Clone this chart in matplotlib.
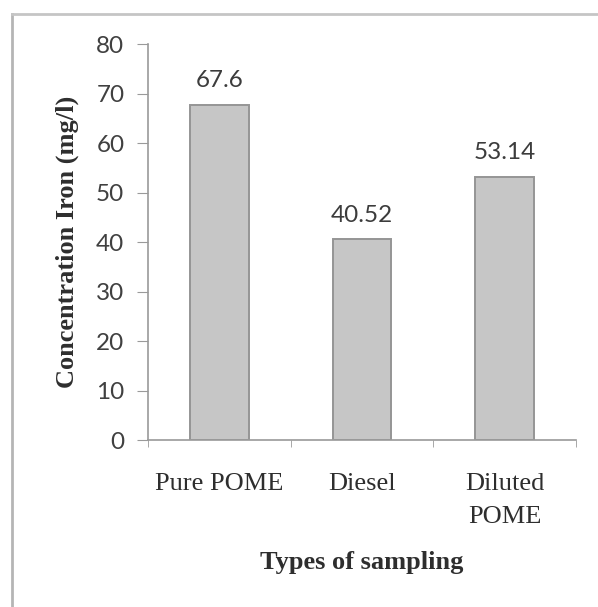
import matplotlib

matplotlib.use("Agg")

import matplotlib.pyplot as plt
from matplotlib.lines import Line2D

# data
categories = ["Pure POME", "Diesel", "Diluted\nPOME"]
iron_mg_l = [67.6, 40.52, 53.14]
value_labels = ["67.6", "40.52", "53.14"]

fig = plt.figure(figsize=(5.98, 6.07), dpi=100)
ax = fig.add_axes([0.2475, 0.2751, 0.7157, 0.6524])

x = list(range(len(categories)))
bars = ax.bar(x, iron_mg_l, width=0.41, color="#c6c6c6",
              edgecolor="#959595", linewidth=1.4, zorder=2)

for bar, lab in zip(bars, value_labels):
    ax.annotate(lab, (bar.get_x() + bar.get_width() / 2, bar.get_height()),
                xytext=(0, 10), textcoords="offset points",
                ha="center", va="bottom", fontsize=17.5,
                family="Lato", color="#3c3c3c")

ax.set_xlim(-0.5, 2.5)
ax.set_ylim(0, 80)
ax.set_yticks(range(0, 81, 10))
ax.set_xticks(x)
ax.set_xticklabels(categories, family="Liberation Serif", fontsize=19,
                   color="#2e2e2e", linespacing=1.65)
ax.set_xticks([-0.5, 0.5, 1.5, 2.5], minor=True)

ax.tick_params(axis="x", which="major", length=0, pad=24)
ax.tick_params(axis="x", which="minor", length=5, color="#9a9a9a", direction="out")
ax.tick_params(axis="y", length=8, color="#9a9a9a", pad=9,
               labelsize=17.5, labelcolor="#404040")
for t in ax.get_yticklabels():
    t.set_family("Lato")

for side in ("top", "right"):
    ax.spines[side].set_visible(False)
for side in ("left", "bottom"):
    ax.spines[side].set_color("#9a9a9a")
    ax.spines[side].set_linewidth(1.2)

ax.set_ylabel("Concentration Iron (mg/l)", family="Liberation Serif",
              fontsize=19, fontweight="bold", color="#2e2e2e", labelpad=12)
ax.set_xlabel("Types of sampling", family="Liberation Serif",
              fontsize=19, fontweight="bold", color="#2e2e2e", labelpad=16)

# frame of the scanned chart: only left and top edges are visible
fig.add_artist(Line2D([0.02, 0.02], [0.0, 0.977], color="#b5b5b5", lw=2,
                      transform=fig.transFigure))
fig.add_artist(Line2D([0.02, 1.0], [0.977, 0.977], color="#c5c5c5", lw=2,
                      transform=fig.transFigure))

fig.savefig("out.png", dpi=100)
